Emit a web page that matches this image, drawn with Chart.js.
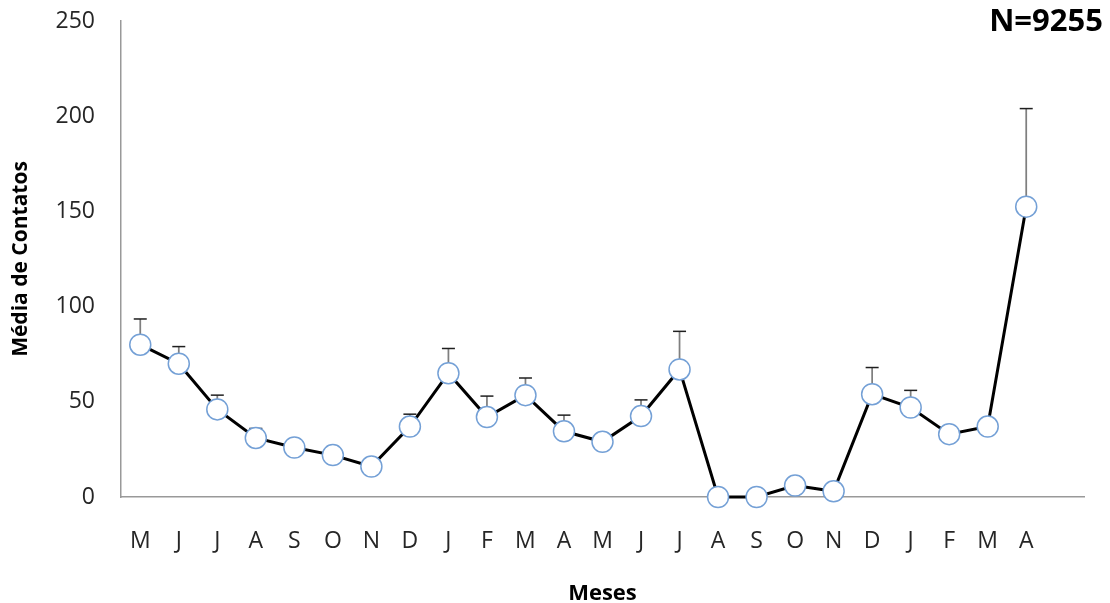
<!DOCTYPE html>
<html>
<head>
<meta charset="utf-8">
<script src="https://cdn.jsdelivr.net/npm/chart.js@4/dist/chart.umd.min.js"></script>
<style>
  html, body { margin: 0; padding: 0; background: #fff; }
  #wrap { width: 1110px; height: 603px; position: relative; }
</style>
</head>
<body>
<div id="wrap"><canvas id="c"></canvas></div>
<script>
// Months (May of year 1 through April of year 3); trailing blank slot keeps the axis open on the right
const months = ['M','J','J','A','S','O','N','D','J','F','M','A','M','J','J','A','S','O','N','D','J','F','M','A',''];
// Mean number of contacts per month
const meanContacts = [80, 70, 46, 31, 26, 22, 16, 37, 65, 42, 53.5, 34.5, 29, 42.5, 67, 0, 0, 6, 3, 54, 47, 33, 37, 152.5, null];
// Upper error (added to the mean)
const errorPlus = [13.5, 9, 7.5, 5, 4, 3, 2, 6.5, 13, 11, 9, 8.5, 3, 8.5, 20, 0, 0, 2, 1, 14, 9, 3, 4, 51.5, null];
const yTicks = [0, 50, 100, 150, 200, 250];
const sampleLabel = 'N=9255';

const FONT = "'Open Sans', 'Liberation Sans', sans-serif";

// Upward error bars: grey stem with a dark cap, drawn beneath the markers
const errorBars = {
  id: 'errorBars',
  beforeDatasetsDraw(chart) {
    const { ctx, scales: { x, y } } = chart;
    ctx.save();
    meanContacts.forEach((v, i) => {
      if (v === null || !errorPlus[i]) return;
      const px = x.getPixelForValue(i);
      const y0 = y.getPixelForValue(v);
      const y1 = y.getPixelForValue(v + errorPlus[i]);
      ctx.strokeStyle = '#7f7f7f';
      ctx.lineWidth = 1.75;
      ctx.beginPath();
      ctx.moveTo(px, y0);
      ctx.lineTo(px, y1);
      ctx.stroke();
      ctx.strokeStyle = '#1f1f1f';
      ctx.lineWidth = 1.5;
      ctx.beginPath();
      ctx.moveTo(px - 6.5, y1);
      ctx.lineTo(px + 6.5, y1);
      ctx.stroke();
    });
    ctx.restore();
  }
};

// Sample-size note at the top right
const sampleNote = {
  id: 'sampleNote',
  afterDraw(chart) {
    const { ctx } = chart;
    ctx.save();
    ctx.font = "bold 31px " + FONT;
    ctx.fillStyle = '#000';
    ctx.textAlign = 'right';
    ctx.textBaseline = 'middle';
    ctx.fillText(sampleLabel, 1103, 22);
    ctx.restore();
  }
};

new Chart(document.getElementById('c'), {
  type: 'line',
  data: {
    labels: months,
    datasets: [{
      data: meanContacts,
      borderColor: '#000',
      borderWidth: 3,
      pointRadius: 10.5,
      pointHoverRadius: 10.5,
      pointBackgroundColor: '#fff',
      pointBorderColor: '#74a0d6',
      pointBorderWidth: 1.5,
      tension: 0,
      clip: false
    }]
  },
  options: {
    responsive: true,
    maintainAspectRatio: false,
    animation: false,
    events: [],
    layout: { padding: { top: 21, right: 26, bottom: 0, left: 0 } },
    plugins: { legend: { display: false }, tooltip: { enabled: false } },
    scales: {
      x: {
        type: 'category',
        offset: true,
        grid: { display: false, drawTicks: false },
        border: { display: true, color: '#999999', width: 1.5 },
        ticks: { color: '#262626', font: { family: FONT, size: 23 }, padding: 31, maxRotation: 0, autoSkip: false },
        title: { display: true, text: 'Meses', color: '#000', font: { family: FONT, size: 22, weight: 'bold' }, padding: { top: 0, bottom: -4 } },
        afterFit(scale) { scale.height = 106; scale.paddingLeft = 0; scale.paddingRight = 0; }
      },
      y: {
        min: 0,
        max: 250,
        afterBuildTicks(scale) { scale.ticks = yTicks.map(v => ({ value: v })); },
        grid: { display: false, drawTicks: false },
        border: { display: true, color: '#999999', width: 1.5 },
        ticks: { color: '#262626', font: { family: FONT, size: 23 }, padding: 26 },
        title: { display: true, text: 'Média de Contatos', color: '#000', font: { family: FONT, size: 21, weight: 'bold' }, padding: { top: 8, bottom: 0 } },
        afterFit(scale) { scale.width = 121; scale.paddingTop = 0; scale.paddingBottom = 0; }
      }
    }
  },
  plugins: [errorBars, sampleNote]
});
</script>
</body>
</html>
